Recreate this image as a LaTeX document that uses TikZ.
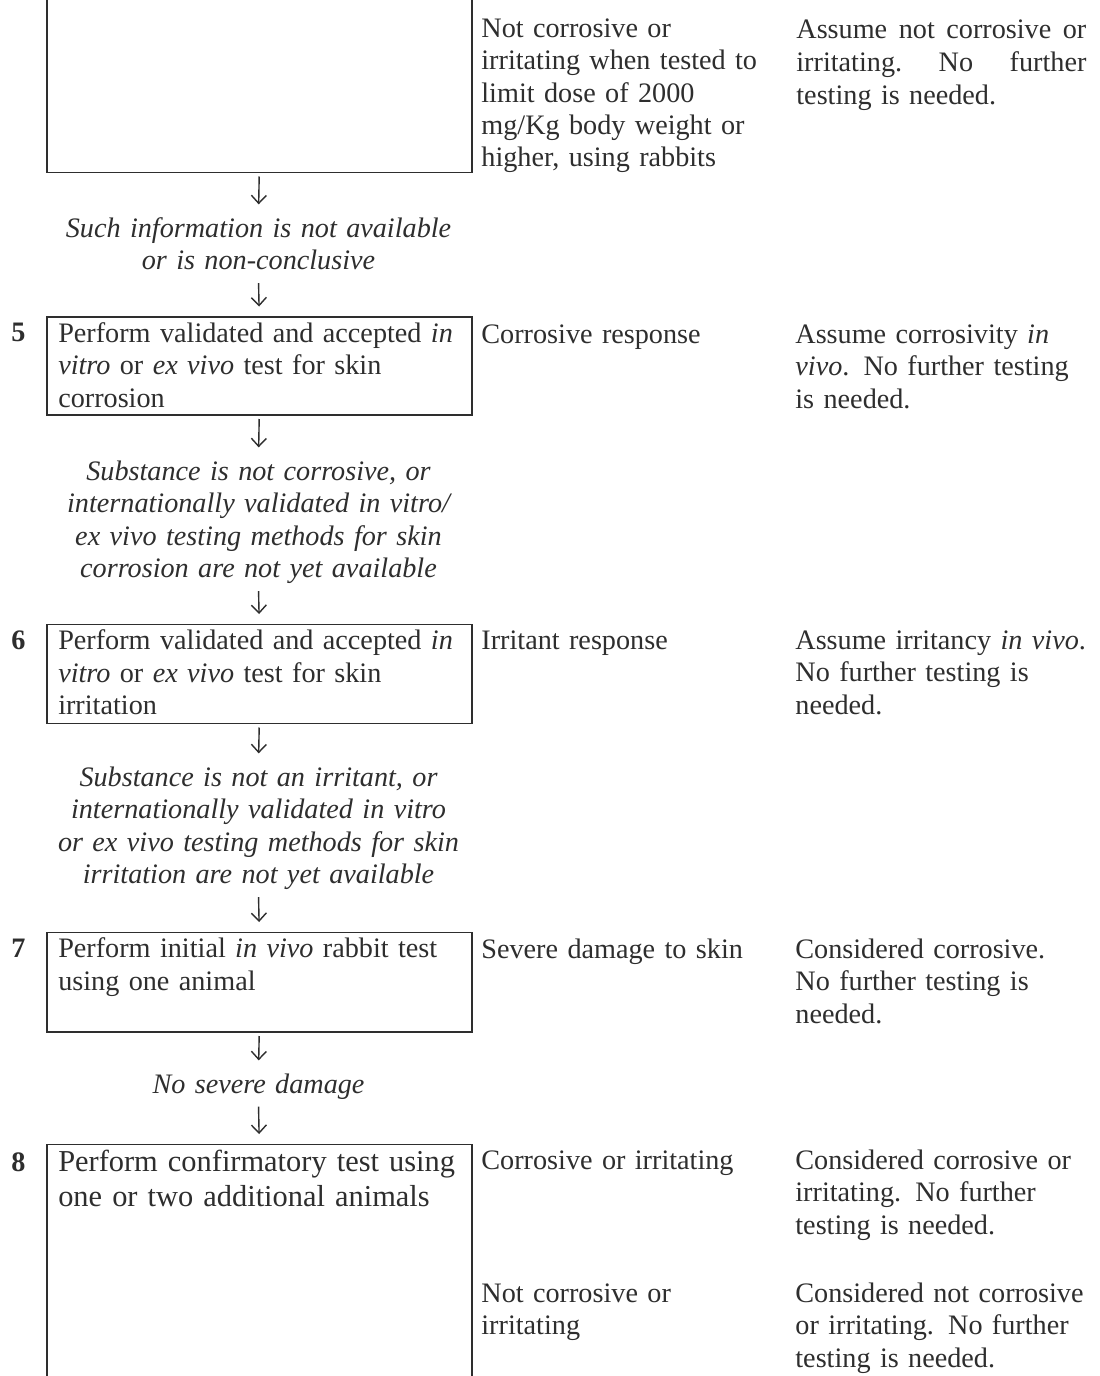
\documentclass[tikz,border=0pt]{standalone}
\usepackage{fontspec}
\setmainfont{Liberation Serif}
\usetikzlibrary{arrows.meta}
\definecolor{ink}{HTML}{2E2E2E}

\begin{document}
\begin{tikzpicture}[x=0.5pt,y=-0.5pt,->,>={Straight Barb[length=4pt,width=7.5pt]},
    every node/.style={text=ink,font=\fontsize{14.1}{16.25}\selectfont},
    testbox/.style={draw=ink,line width=0.75pt,anchor=north west,minimum width=212.5pt,
      text width=201pt,align=left,inner xsep=5.5pt,inner ysep=0pt,text height=12.75pt},
    cond/.style={anchor=base,text width=215pt,align=center,inner sep=0pt,
      font=\fontsize{14.1}{16.25}\selectfont\itshape,
      execute at begin node=\strut,execute at end node=\strut},
    resp/.style={anchor=base west,text width=150pt,align=left,inner sep=0pt},
    stepnum/.style={anchor=base,inner sep=0pt,font=\fontsize{14.1}{16.25}\selectfont\bfseries}]

\path[use as bounding box,fill=white] (0,0) rectangle (1099,1376);

% step 4 (cut off at the top)
\node[testbox,anchor=south west,minimum height=100pt,text height=0pt] (b4) at (46,173) {};
\node[resp] (r4) at (481,37) {Not corrosive or\\irritating when tested to\\limit dose of 2000\\mg/Kg body weight or\\higher, using rabbits};
\node[resp] (c4) at (796,39) {\makebox[145pt][l]{Assume\hfill not\hfill corrosive\hfill or}\\\makebox[145pt][l]{irritating.\hfill No\hfill further}\\testing is needed.};
\node[cond] (l4) at (258.5,237) {Such information is not available\\or is non-conclusive};

% step 5
\node[testbox,text depth=36.25pt] (b5) at (46,316) {Perform validated and accepted \textit{in}\\\textit{vitro} or \textit{ex vivo} test for skin\\corrosion};
\node[stepnum] (n5) at (18.5,341.5) {5};
\node[resp] (r5) at (481,343) {Corrosive response};
\node[resp] (c5) at (795,343) {Assume corrosivity \textit{in}\\\textit{vivo}.\enspace No further testing\\is needed.};
\node[cond] (l5) at (258.5,480) {Substance is not corrosive, or\\internationally validated in vitro/\\ex vivo testing methods for skin\\corrosion are not yet available};

% step 6
\node[testbox,text depth=36.75pt] (b6) at (46,623.5) {Perform validated and accepted \textit{in}\\\textit{vitro} or \textit{ex vivo} test for skin\\irritation};
\node[stepnum] (n6) at (18.5,649) {6};
\node[resp] (r6) at (481,649) {Irritant response};
\node[resp] (c6) at (795,649) {Assume irritancy \textit{in vivo}.\\No further testing is\\needed.};
\node[cond] (l6) at (258.5,786) {Substance is not an irritant, or\\internationally validated in vitro\\or ex vivo testing methods for skin\\irritation are not yet available};

% step 7
\node[testbox,text depth=37pt] (b7) at (46,931.5) {Perform initial \textit{in vivo} rabbit test\\using one animal};
\node[stepnum] (n7) at (18.5,957) {7};
\node[resp] (r7) at (481,958) {Severe damage to skin};
\node[resp] (c7) at (795,958) {Considered corrosive.\\No further testing is\\needed.};
\node[cond] (l7) at (258.5,1093) {No severe damage};

% step 8 (runs off the bottom)
\node[testbox,font=\fontsize{15.2}{17.5}\selectfont,text height=13.75pt,text depth=115pt] (b8) at (46,1143.5) {Perform confirmatory test using\\one or two additional animals};
\node[stepnum] (n8) at (18.5,1171) {8};
\node[resp] (r8a) at (481,1169) {Corrosive or irritating};
\node[resp] (c8a) at (795,1169) {Considered corrosive or\\irritating.\enspace No further\\testing is needed.};
\node[resp] (r8b) at (481,1302) {Not corrosive or\\irritating};
\node[resp] (c8b) at (795,1302) {Considered not corrosive\\or irritating.\enspace No further\\testing is needed.};

\path[every edge/.style={draw=ink,line width=0.7pt,shorten <=1.75pt,shorten >=4.75pt}]
(b4.south) edge (l4.north)
(l4.south) edge (b5.north)
(b5.south) edge (l5.north)
(l5.south) edge (b6.north)
(b6.south) edge (l6.north)
(l6.south) edge (b7.north)
(b7.south) edge (l7.north)
(l7.south) edge (b8.north)
;

\end{tikzpicture}
\end{document}
